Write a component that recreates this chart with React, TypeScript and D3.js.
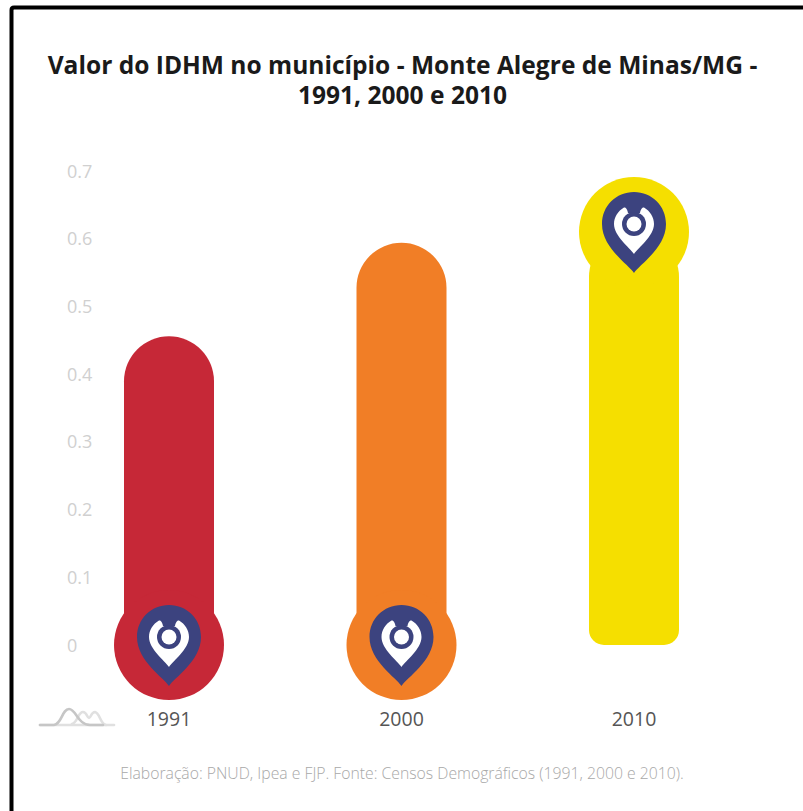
import React from "react";
import * as d3 from "d3";

const years = ["1991", "2000", "2010"];
const idhm = [0.456, 0.594, 0.61];
const markerValues = [0, 0, 0.61];
const colors = ["#c62837", "#f17e26", "#f5df00"];
const yTicks = [0, 0.1, 0.2, 0.3, 0.4, 0.5, 0.6, 0.7];
const titleLines = ["Valor do IDHM no município - Monte Alegre de Minas/MG -", "1991, 2000 e 2010"];
const footer = "Elaboração: PNUD, Ipea e FJP. Fonte: Censos Demográficos (1991, 2000 e 2010).";

const W = 803;
const H = 811;
const FONT = "'Open Sans', sans-serif";
const NAVY = "#3c437f";

const y = d3.scaleLinear().domain([0, 0.7]).range([645, 171]);
const x = d3.scalePoint<string>().domain(years).range([169, 634]);
const BAR_W = 90;

function barPath(cx: number, top: number, bottom: number) {
  const l = cx - BAR_W / 2;
  const r = cx + BAR_W / 2;
  const rt = BAR_W / 2;
  const rb = 15;
  const p = d3.path();
  p.moveTo(l, top + rt);
  p.arc(cx, top + rt, rt, Math.PI, 0);
  p.lineTo(r, bottom - rb);
  p.arc(r - rb, bottom - rb, rb, 0, Math.PI / 2);
  p.lineTo(l + rb, bottom);
  p.arc(l + rb, bottom - rb, rb, Math.PI / 2, Math.PI);
  p.closePath();
  return p.toString();
}

function Pin({ cx, cy }: { cx: number; cy: number }) {
  return (
    <g transform={`translate(${cx},${cy})`}>
      <path
        d="M0,41 C-5,33 -32,16 -32,-8 C-32,-26 -18,-40 0,-40 C18,-40 32,-26 32,-8 C32,16 5,33 0,41 Z"
        fill={NAVY}
      />
      <path
        d="M0,22 C-4,16 -20,4 -20,-8 C-20,-15 -16,-21 -10,-24.5 C-8,-25 -6.5,-22 -6,-19 L6,-19 C6.5,-22 8,-25 10,-24.5 C16,-21 20,-15 20,-8 C20,4 4,16 0,22 Z"
        fill="#fff"
      />
      <circle cx={0} cy={-8} r={12} fill={NAVY} />
      <circle cx={0} cy={-8} r={7.5} fill="#fff" />
    </g>
  );
}

export default function App() {
  return (
    <svg
      width={W}
      height={H}
      viewBox={`0 0 ${W} ${H}`}
      style={{ position: "absolute", left: 0, top: 0, background: "#fff" }}
    >
      <path d="M11.5,830 L11.5,10 Q11.5,7.5 14,7.5 L830,7.5" fill="none" stroke="#000" strokeWidth={4} />

      <g fontFamily={FONT} fontWeight={700} fontSize={24.55} fill="#1a1a1a" textAnchor="middle">
        {titleLines.map((t, i) => (
          <text key={t} x={402.5} y={74 + i * 30}>{t}</text>
        ))}
      </g>

      <g fontFamily={FONT} fontSize={18} fill="#d0d0d0">
        {yTicks.map((t) => (
          <text key={t} x={67} y={y(t) + 6.5}>{String(t)}</text>
        ))}
      </g>

      {years.map((yr, i) => (
        <g key={yr}>
          <path d={barPath(x(yr)!, y(idhm[i]), y(0))} fill={colors[i]} />
          <circle cx={x(yr)!} cy={y(markerValues[i])} r={55} fill={colors[i]} />
        </g>
      ))}
      {years.map((yr, i) => (
        <Pin key={yr} cx={x(yr)!} cy={y(markerValues[i])} />
      ))}

      <g fontFamily={FONT} fontSize={19.5} fill="#555" textAnchor="middle">
        {years.map((yr) => (
          <text key={yr} x={x(yr)!} y={726}>{yr}</text>
        ))}
      </g>

      <g fill="none" strokeWidth={2.6} strokeLinecap="round">
        <path d="M40,725 L114,725" stroke="#e0e0e0" />
        <path d="M72,724 C78,722 78,712 83,712 C87,712 87,718 89,718 C91,718 91,712 95,712 C100,713 100,724 106,725" stroke="#e0e0e0" />
        <path d="M40,725 L54,725 C62,724 62,709 69,709 C76,709 78,725 90,725 L103,725" stroke="#c6c6c6" />
      </g>

      <text x={402} y={779} fontFamily={FONT} fontWeight={300} fontSize={15.75} fill="#a8a8a8" textAnchor="middle">{footer}</text>
    </svg>
  );
}
